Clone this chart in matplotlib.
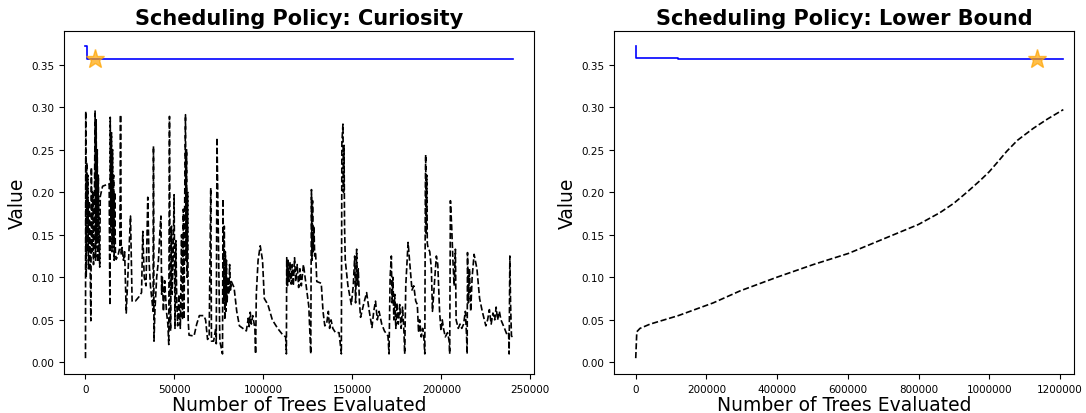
"""Two scheduling-policy traces: best value so far (blue step) and the
per-tree value (black dashed), with the best point starred."""

import matplotlib

matplotlib.use("Agg")
import matplotlib.pyplot as plt

BLUE = "blue"
STAR = "orange"

# Curiosity policy: best-so-far value
CUR_BEST_X = [0, 600, 240000]
CUR_BEST_Y = [0.3715, 0.3565, 0.3565]
CUR_STAR = (5600, 0.3562)

# Curiosity policy: evaluated value
CUR_X = [
    0, 150, 400, 700, 1000, 1300, 1700, 2100, 2600, 3000, 3300, 3700, 4100,
    4500, 5000, 5400, 5700, 6000, 6300, 6600, 6900, 7200, 7600, 8000, 8300,
    9600, 13300, 13700, 13900, 14300, 14600, 14900, 15200, 15500, 15800,
    16100, 16400, 16800, 17200, 18200, 19300, 19700, 20100, 20600, 21300,
    22000, 22900, 23800, 25300, 26200, 28000, 30000, 31500, 32200, 33000,
    34000, 35000, 35700, 36500, 37500, 38000, 38200, 38500, 39000, 40000,
    41000, 42000, 42400, 42800, 43200, 43800, 44500, 45500, 46300, 46800,
    47200, 47500, 47800, 48300, 48700, 49200, 49800, 50300, 50800, 51300,
    51800, 52500, 53300, 54000, 54500, 55000, 55400, 55800, 56200, 56500,
    56800, 57100, 57400, 57700, 58200, 61000, 62500, 64000, 66500, 67500,
    68600, 69500, 70400, 70800, 72000, 73200, 73500, 73900, 75500, 77000,
    77300, 77700, 78000, 78300, 78600, 78900, 79200, 79600, 80000, 80500,
    81000, 81500, 82000, 83500, 85000, 86500, 88500, 90400, 91500, 92000,
    92600, 93200, 94000, 95200, 95600, 96000, 97000, 98200, 99500, 100500,
    102500, 105000, 108000, 111000, 112500, 112900, 113100, 113500, 113900,
    114400, 115000, 115600, 116200, 116800, 117500, 118200, 119000, 119800,
    120500, 121300, 122500, 124000, 125500, 126600, 127000, 127300, 127600,
    128000, 128400, 128800, 129300, 130000, 132500, 133500, 134500, 135500,
    136500, 137200, 138000, 139000, 140500, 142500, 143800, 144100, 144700,
    145000, 145300, 145600, 146000, 147500, 149400, 150500, 151300, 151800,
    152400, 152800, 153300, 154000, 154600, 156500, 158000, 159500, 161000,
    162000, 163000, 164000, 165000, 166500, 168000, 170000, 170600, 171200,
    171900, 172300, 172800, 173300, 173800, 174400, 175000, 175800, 176600,
    177400, 178200, 179000, 179400, 180000, 181300, 182500, 183500, 184500,
    185600, 186500, 187200, 187800, 188700, 189500, 190200, 190700, 191000,
    191200, 191500, 191800, 192100, 192500, 193500, 194400, 195000, 196000,
    197200, 198000, 199000, 199800, 200500, 201200, 202200, 203500, 204400,
    204700, 205100, 205800, 206500, 207200, 207900, 208300, 209500, 210500,
    211500, 212500, 213500, 214200, 214500, 214700, 215200, 215800, 216500,
    217300, 218400, 220000, 221500, 223000, 225000, 226000, 227000, 228000,
    229000, 230000, 230800, 231600, 232600, 233500, 234500, 235500, 236800,
    237800, 238100, 238500, 238900, 239400, 240000,
]
CUR_Y = [
    0.005, 0.295, 0.100, 0.235, 0.130, 0.220, 0.110, 0.190, 0.120, 0.049,
    0.229, 0.130, 0.200, 0.115, 0.180, 0.296, 0.120, 0.285, 0.140, 0.250,
    0.118, 0.220, 0.150, 0.112, 0.195, 0.207, 0.210, 0.067, 0.288, 0.160,
    0.270, 0.130, 0.250, 0.140, 0.220, 0.120, 0.200, 0.130, 0.121, 0.125,
    0.135, 0.291, 0.126, 0.135, 0.120, 0.130, 0.058, 0.100, 0.172, 0.072,
    0.072, 0.077, 0.082, 0.154, 0.100, 0.090, 0.194, 0.120, 0.090, 0.070,
    0.060, 0.254, 0.025, 0.060, 0.100, 0.120, 0.160, 0.172, 0.080, 0.100,
    0.060, 0.096, 0.060, 0.045, 0.021, 0.289, 0.100, 0.037, 0.160, 0.080,
    0.120, 0.197, 0.040, 0.143, 0.070, 0.043, 0.080, 0.040, 0.150, 0.050,
    0.180, 0.051, 0.200, 0.291, 0.120, 0.250, 0.100, 0.200, 0.050, 0.032,
    0.031, 0.045, 0.055, 0.055, 0.050, 0.027, 0.030, 0.205, 0.025, 0.025,
    0.040, 0.022, 0.264, 0.025, 0.010, 0.192, 0.070, 0.160, 0.050, 0.130,
    0.060, 0.120, 0.070, 0.100, 0.080, 0.115, 0.085, 0.095, 0.088, 0.060,
    0.043, 0.040, 0.037, 0.052, 0.042, 0.059, 0.045, 0.055, 0.040, 0.010,
    0.080, 0.120, 0.137, 0.120, 0.075, 0.068, 0.050, 0.040, 0.032, 0.030,
    0.010, 0.123, 0.090, 0.120, 0.095, 0.118, 0.092, 0.115, 0.090, 0.123,
    0.095, 0.115, 0.088, 0.110, 0.090, 0.115, 0.090, 0.066, 0.010, 0.203,
    0.120, 0.190, 0.130, 0.160, 0.125, 0.130, 0.095, 0.093, 0.060, 0.043,
    0.045, 0.060, 0.040, 0.050, 0.040, 0.035, 0.035, 0.010, 0.258, 0.280,
    0.200, 0.255, 0.160, 0.120, 0.090, 0.068, 0.090, 0.125, 0.070, 0.133,
    0.090, 0.110, 0.070, 0.053, 0.070, 0.082, 0.060, 0.041, 0.060, 0.072,
    0.050, 0.060, 0.045, 0.037, 0.031, 0.010, 0.100, 0.125, 0.070, 0.100,
    0.050, 0.080, 0.040, 0.070, 0.045, 0.068, 0.040, 0.065, 0.035, 0.010,
    0.090, 0.141, 0.110, 0.085, 0.090, 0.072, 0.068, 0.035, 0.050, 0.030,
    0.040, 0.028, 0.010, 0.200, 0.244, 0.150, 0.220, 0.140, 0.135, 0.130,
    0.110, 0.060, 0.090, 0.125, 0.115, 0.060, 0.037, 0.050, 0.040, 0.030,
    0.035, 0.025, 0.010, 0.190, 0.160, 0.120, 0.090, 0.133, 0.050, 0.040,
    0.045, 0.040, 0.045, 0.060, 0.030, 0.010, 0.129, 0.070, 0.110, 0.060,
    0.100, 0.127, 0.110, 0.075, 0.060, 0.043, 0.050, 0.062, 0.045, 0.058,
    0.050, 0.065, 0.050, 0.060, 0.050, 0.045, 0.040, 0.033, 0.035, 0.010,
    0.125, 0.070, 0.031, 0.030,
]

# Lower Bound policy: best-so-far value
LB_BEST_X = [0, 600, 120600, 1210000]
LB_BEST_Y = [0.3720, 0.3582, 0.3567, 0.3567]
LB_STAR = (1134000, 0.3562)

# Lower Bound policy: evaluated value
LB_X = [0, 3000, 12000, 40500, 120500, 219500, 295000, 398800, 502400,
        601400, 700400, 799400, 860800, 900000, 940000, 975000, 1000000,
        1025000, 1049500, 1080000, 1124700, 1165000, 1209600]
LB_Y = [0.005, 0.036, 0.040, 0.045, 0.055, 0.070, 0.084, 0.100, 0.115,
        0.128, 0.145, 0.162, 0.176, 0.187, 0.201, 0.214, 0.224, 0.236,
        0.248, 0.261, 0.275, 0.286, 0.297]

PANELS = [
    ("Scheduling Policy: Curiosity", CUR_BEST_X, CUR_BEST_Y, CUR_STAR,
     CUR_X, CUR_Y, (-12040, 252250), [0.059, 0.094, 0.433, 0.829]),
    ("Scheduling Policy: Lower Bound", LB_BEST_X, LB_BEST_Y, LB_STAR,
     LB_X, LB_Y, (-60500, 1240000), [0.5657, 0.094, 0.4233, 0.829]),
]


def main():
    fig = plt.figure(figsize=(10.86, 4.14), dpi=100)
    for title, bx, by, star, vx, vy, xlim, rect in PANELS:
        ax = fig.add_axes(rect)
        ax.plot(bx, by, color=BLUE, lw=1.2, drawstyle="steps-post")
        ax.plot(vx, vy, color="black", lw=1.2, ls="--")
        ax.plot([star[0]], [star[1]], marker="*", color=STAR, alpha=0.7,
                markersize=14, ls="none")
        ax.set_xlim(*xlim)
        ax.set_ylim(-0.0137, 0.3895)
        ax.set_title(title, fontsize=15, fontweight="bold", pad=5)
        ax.set_xlabel("Number of Trees Evaluated", fontsize=13.5, labelpad=1)
        ax.set_ylabel("Value", fontsize=13.5, labelpad=3)
        ax.tick_params(labelsize=7.5)
        ax.ticklabel_format(axis="x", style="plain")
    fig.savefig("out.png", dpi=100)
    plt.close(fig)


if __name__ == "__main__":
    main()
